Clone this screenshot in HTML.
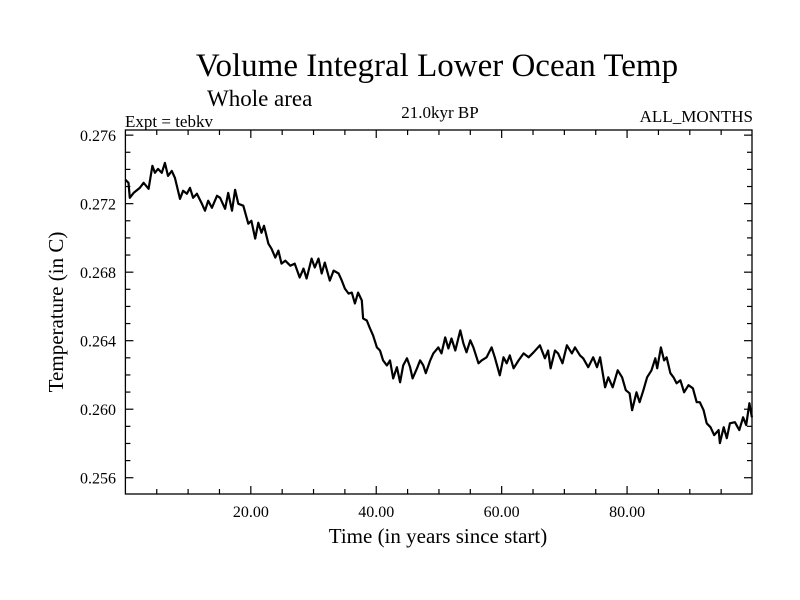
<!DOCTYPE html>
<html><head><meta charset="utf-8"><style>
html,body{margin:0;padding:0;background:#fff;}
svg{display:block;font-family:"Liberation Serif",serif;}
</style></head><body>
<svg id="chart" width="800" height="600" viewBox="0 0 800 600" xmlns="http://www.w3.org/2000/svg">
<rect width="800" height="600" fill="#fff"/>
<text x="437" y="76" font-size="33" text-anchor="middle">Volume Integral Lower Ocean Temp</text>
<text x="207" y="106" font-size="23">Whole area</text>
<text x="125" y="127" font-size="17">Expt = tebkv</text>
<text x="440" y="118" font-size="17" text-anchor="middle">21.0kyr BP</text>
<text x="753" y="122" font-size="17" text-anchor="end">ALL_MONTHS</text>
<text transform="translate(63,312) rotate(-90)" font-size="21" text-anchor="middle">Temperature (in C)</text>
<text x="438" y="543" font-size="21" text-anchor="middle">Time (in years since start)</text>
<g id="axes"></g>
<g id="plot"></g>
</svg>
<script>
const years=[0.0,0.5,0.7,1.3,2.3,2.9,3.7,4.3,4.7,5.2,5.8,6.3,6.8,7.4,7.9,8.7,9.2,9.8,10.3,10.8,11.4,12.2,12.7,13.2,13.8,14.6,15.1,15.9,16.4,17.0,17.5,18.0,18.8,19.6,20.1,20.7,21.2,21.7,22.1,22.8,23.3,23.9,24.4,24.9,25.5,26.3,27.0,27.8,28.4,28.9,29.7,30.2,30.8,31.3,31.8,32.6,33.2,34.0,34.5,35.0,35.6,36.1,36.6,37.1,37.7,37.9,38.5,39.0,39.5,40.1,40.6,41.1,41.7,42.2,42.7,43.3,43.8,44.3,44.9,45.4,45.8,46.5,47.0,47.5,47.9,48.6,49.1,49.9,50.4,51.0,51.5,52.0,52.6,53.4,53.9,54.4,55.0,55.5,56.3,56.8,57.6,58.4,58.9,59.7,60.3,60.8,61.3,61.9,62.7,63.5,64.3,65.1,66.1,66.9,67.4,67.8,68.5,69.0,69.7,70.4,71.2,71.7,72.5,73.0,73.8,74.6,75.2,75.7,76.5,77.0,77.7,78.5,79.2,79.8,80.4,80.8,81.5,82.0,82.6,83.2,83.9,84.5,84.8,85.4,85.9,86.3,86.9,87.4,87.9,88.5,89.1,89.8,90.5,91.1,91.6,92.2,92.7,93.3,93.9,94.6,94.8,95.4,95.9,96.4,97.2,97.9,98.5,99.0,99.5,99.9];
const temps=[0.27339,0.27322,0.27234,0.27263,0.27292,0.27322,0.27287,0.27421,0.27380,0.27403,0.27380,0.27438,0.27362,0.27391,0.27351,0.27228,0.27275,0.27258,0.27292,0.27234,0.27258,0.27199,0.27159,0.27217,0.27176,0.27246,0.27234,0.27170,0.27263,0.27159,0.27281,0.27199,0.27188,0.27083,0.27100,0.26996,0.27089,0.27030,0.27071,0.26966,0.26937,0.26885,0.26926,0.26850,0.26867,0.26838,0.26850,0.26769,0.26821,0.26763,0.26879,0.26827,0.26879,0.26792,0.26856,0.26751,0.26809,0.26792,0.26751,0.26704,0.26675,0.26681,0.26617,0.26681,0.26635,0.26530,0.26518,0.26472,0.26431,0.26361,0.26343,0.26285,0.26256,0.26285,0.26180,0.26245,0.26157,0.26256,0.26297,0.26245,0.26180,0.26239,0.26285,0.26256,0.26210,0.26285,0.26326,0.26361,0.26326,0.26419,0.26355,0.26413,0.26343,0.26460,0.26384,0.26332,0.26402,0.26361,0.26268,0.26285,0.26303,0.26361,0.26303,0.26198,0.26303,0.26268,0.26314,0.26239,0.26285,0.26326,0.26303,0.26332,0.26373,0.26297,0.26343,0.26239,0.26343,0.26326,0.26268,0.26373,0.26326,0.26361,0.26314,0.26297,0.26245,0.26303,0.26245,0.26303,0.26128,0.26186,0.26128,0.26227,0.26186,0.26111,0.26093,0.25994,0.26099,0.26041,0.26111,0.26186,0.26227,0.26297,0.26239,0.26361,0.26285,0.26303,0.26210,0.26186,0.26151,0.26169,0.26099,0.26140,0.26122,0.26041,0.26041,0.25994,0.25918,0.25895,0.25849,0.25878,0.25802,0.25895,0.25831,0.25918,0.25924,0.25878,0.25953,0.25907,0.26035,0.25953];
const yTicks=[0.256,0.260,0.264,0.268,0.272,0.276];
const yTickLabels=["0.256","0.260","0.264","0.268","0.272","0.276"];
const xTicks=[20,40,60,80];
const xTickLabels=["20.00","40.00","60.00","80.00"];
const X0=125.4,X1=752,Y0=494,Y1=130;
const xMin=0,xMax=99.92,yMin=0.25505,yMax=0.27630;
function xs(v){return X0+(v-xMin)/(xMax-xMin)*(X1-X0);}
function ys(v){return Y0-(v-yMin)/(yMax-yMin)*(Y0-Y1);}
const NS="http://www.w3.org/2000/svg";
const axes=document.getElementById('axes'),plot=document.getElementById('plot');
function mk(tag,attrs,parent){const e=document.createElementNS(NS,tag);for(const k in attrs)e.setAttribute(k,attrs[k]);parent.appendChild(e);return e;}
const frame=mk('rect',{x:X0,y:Y1,width:X1-X0,height:Y0-Y1,fill:'none',stroke:'#000','stroke-width':1.3},axes);


// y minor + major ticks
for(let v=0.256;v<=0.2761;v+=0.001){
 const isMajor=Math.abs((v-0.256)/0.004-Math.round((v-0.256)/0.004))<1e-6;
 const L=isMajor?8:5,y=ys(v);
 const t1=mk('line',{x1:X0,x2:X0+L,y1:y,y2:y,stroke:'#000','stroke-width':1.2},axes);
 
 
 const t2=mk('line',{x1:X1,x2:X1-L,y1:y,y2:y,stroke:'#000','stroke-width':1.2},axes);
 
 
}
yTicks.forEach((v,i)=>{
 const t=mk('text',{x:116,y:ys(v)+6,'font-size':16,'text-anchor':'end'},axes);
 t.textContent=yTickLabels[i];
 
 
});
for(let v=5;v<100;v+=5){
 const isMajor=v%20===0;const L=isMajor?8:5,x=xs(v);
 const t1=mk('line',{x1:x,x2:x,y1:Y0,y2:Y0-L,stroke:'#000','stroke-width':1.2},axes);
 
 
 const t2=mk('line',{x1:x,x2:x,y1:Y1,y2:Y1+L,stroke:'#000','stroke-width':1.2},axes);
 
 
}
xTicks.forEach((v,i)=>{
 const t=mk('text',{x:xs(v),y:517,'font-size':16,'text-anchor':'middle'},axes);
 t.textContent=xTickLabels[i];
 
 
});
const d=years.map((yr,i)=>(i?'L':'M')+xs(yr).toFixed(1)+' '+ys(temps[i]).toFixed(1)).join(' ');
const line=mk('path',{d:d,fill:'none',stroke:'#000','stroke-width':2.2,'stroke-linejoin':'round'},plot);


</script>
</body></html>
